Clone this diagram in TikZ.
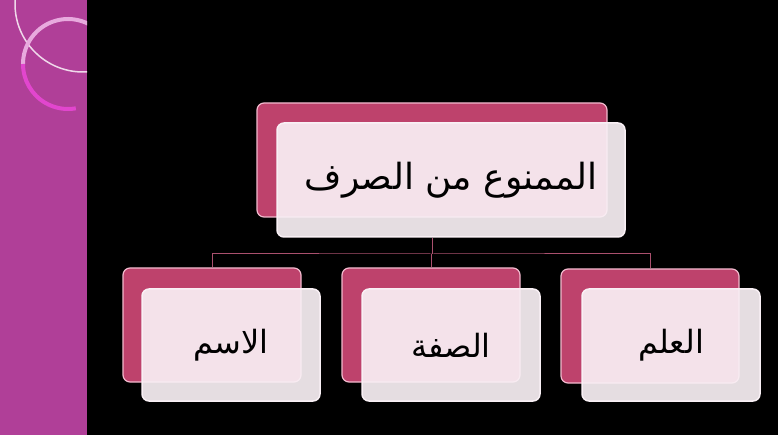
\documentclass[tikz,border=0pt]{standalone}
\usepackage{fontspec}
\newfontfamily\arabicfont[Script=Arabic]{DejaVu Sans}
\TeXXeTstate=1
\usetikzlibrary{positioning}
\definecolor{strip}{RGB}{176,63,152}
\definecolor{rose}{RGB}{190,66,108}
\definecolor{roseline}{RGB}{242,186,206}
\definecolor{paper}{RGB}{249,240,245}
\definecolor{link}{RGB}{170,80,110}
\definecolor{ringtop}{RGB}{232,170,222}
\definecolor{ringlow}{RGB}{226,70,206}

\begin{document}
\begin{tikzpicture}[x=1pt,y=-1pt,
  back/.style={draw=roseline,line width=1.2pt,fill=rose,rounded corners=7pt,
    minimum width=178pt,minimum height=114pt,inner sep=0pt},
  front/.style={draw=paper,line width=1.5pt,fill=paper,fill opacity=0.92,text opacity=1,
    rounded corners=7pt,minimum width=178pt,minimum height=112pt,inner sep=0pt,
    font=\arabicfont\fontsize{32}{36}\selectfont},
  wire/.style={draw=link,line width=1pt}]
\useasboundingbox (0,0) rectangle (778,435);
\fill[black] (0,0) rectangle (778,435);
\fill[strip] (0,0) rectangle (87,435);
\begin{scope}
\clip (0,0) rectangle (87,435);
\draw[white!80!strip,line width=1.5pt] (83,4) ++(190:68) arc (190:80:68);
\draw[ringtop,line width=4pt] (68,64) ++(-55:45) arc (-55:-180:45);
\draw[ringlow,line width=4pt] (68,64) ++(-180:45) arc (-180:-280:45);
\end{scope}
% top box
\node[back,minimum width=350pt] (Tb) at (432,160) {};
\node[front,minimum width=348pt,minimum height=114pt,
  font=\arabicfont\fontsize{36}{40}\selectfont] (T) at (451,180) {\beginR الممنوع من الصرف\endR};
% bottom boxes
\node[back] (Ab) at (212,325) {};
\node[front] (A) at (231,345) {\beginR الاسم\endR};
\node[back] (Bb) at (431,325) {};
\node[front] (B) at (451,345) {\beginR الصفة\endR};
\node[back] (Cb) at (650,326) {};
\node[front] (C) at (671,345) {\beginR العلم\endR};
% connectors
\coordinate (J) at (432,254);
\draw[wire] (J |- T.south) -- (J);
\draw[wire] (Ab.north) |- (J) -| (Cb.north);
\draw[wire] (Bb.north) -- (Bb.north |- J);
\end{tikzpicture}
\end{document}
